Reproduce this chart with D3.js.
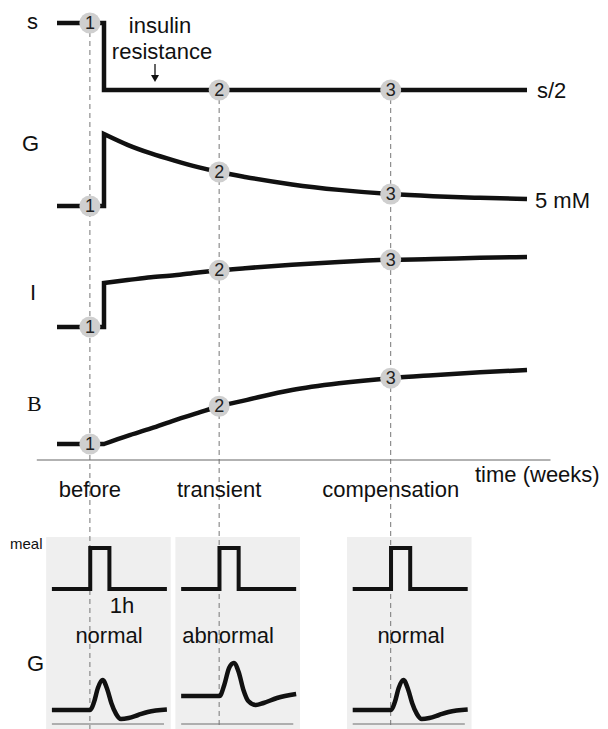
<!DOCTYPE html>
<html>
<head>
<meta charset="utf-8">
<script src="https://cdnjs.cloudflare.com/ajax/libs/d3/7.8.5/d3.min.js"></script>
<style>
  body { margin: 0; background: #fff; }
  svg { display: block; font-family: "Liberation Sans", Arial, Helvetica, sans-serif; }
</style>
</head>
<body>
<svg id="chart" width="608" height="729"></svg>
<script>
// time in weeks, 0 = onset of insulin resistance
const times = [0, 0.5, 1, 1.5, 2, 2.45, 3, 4, 5, 6.1, 7, 8, 9];
const sValues = [0.5, 0.5, 0.5, 0.5, 0.5, 0.5, 0.5, 0.5, 0.5, 0.5, 0.5, 0.5, 0.5];
const gValues = [10.0, 9.25, 8.65, 8.15, 7.7, 7.36, 7.02, 6.5, 6.12, 5.83, 5.68, 5.57, 5.49];
const iValues = [1.63, 1.67, 1.71, 1.74, 1.78, 1.81, 1.84, 1.89, 1.93, 1.96, 1.97, 1.99, 2.0];
const bValues = [1.0, 1.11, 1.21, 1.32, 1.42, 1.51, 1.59, 1.73, 1.82, 1.89, 1.93, 1.97, 2.0];
const baselines = { s: 1, G: 5, I: 1, B: 1 };

const markerTimes = [-0.3, 2.45, 6.1];
const markerLabels = ['1', '2', '3'];
const periodLabels = ['before', 'transient', 'compensation'];
const responseLabels = ['normal', 'abnormal', 'normal'];

// meal test, hours after meal
const mealHours = [-2, 0, 1, 4];
const mealValues = [0, 1, 0, 0];
const gNormalHours = [-2, 0, 0.2, 0.4, 0.65, 0.9, 1.1, 1.35, 1.6, 2, 2.5, 3, 4];
const gNormalValues = [5, 5, 6.33, 8.67, 10, 8.33, 6.17, 4.33, 3.5, 3.67, 4.17, 4.67, 5.08];
const gAbnormalHours = [-2, 0, 0.25, 0.5, 0.75, 1.0, 1.25, 1.5, 1.9, 2.3, 3, 4];
const gAbnormalValues = [7.33, 7.33, 9.17, 12, 12.83, 11.33, 8.33, 6.5, 5.83, 6.17, 7, 7.67];

const svg = d3.select('#chart');
const x = d3.scaleLinear().domain([-1, 9]).range([57, 527]);

const rows = [
  { key: 's', values: sValues, y: d3.scaleLinear().domain([0.5, 1]).range([90, 23]) },
  { key: 'G', values: gValues, y: d3.scaleLinear().domain([5, 10]).range([206, 134]) },
  { key: 'I', values: iValues, y: d3.scaleLinear().domain([1, 2]).range([327, 257]) },
  { key: 'B', values: bValues, y: d3.scaleLinear().domain([1, 2]).range([444, 370]) },
];

const valueAt = (row, t) => (t < 0 ? baselines[row.key] : row.values[times.indexOf(t)]);

// ---- meal test panels (background) ----
const mealY = d3.scaleLinear().domain([0, 1]).range([589, 548]);
const miniY = d3.scaleLinear().domain([0, 10]).range([740, 680]);
const panelG = [
  [gNormalHours, gNormalValues],
  [gAbnormalHours, gAbnormalValues],
  [gNormalHours, gNormalValues],
];

markerTimes.forEach((t) => {
  const mx = x(t);
  const hx = d3.scaleLinear().domain([-2, 4]).range([mx - 38, mx + 77]);
  const g = svg.append('g');
  g.append('rect')
    .attr('x', hx(-2.3)).attr('y', 537)
    .attr('width', hx(4.2) - hx(-2.3)).attr('height', 200)
    .attr('fill', '#efefef');
  g.append('line')
    .attr('x1', hx(-2)).attr('x2', hx(3.85))
    .attr('y1', 724).attr('y2', 724)
    .attr('stroke', '#999').attr('stroke-width', 1.5);
});

// ---- dashed guides ----
markerTimes.forEach((t) => {
  svg.append('line')
    .attr('x1', x(t)).attr('x2', x(t))
    .attr('y1', rows[0].y(valueAt(rows[0], t))).attr('y2', 729)
    .attr('stroke', '#777').attr('stroke-width', 1)
    .attr('stroke-dasharray', '5,4');
});

// ---- time axis ----
svg.append('line')
  .attr('x1', x(-1.43)).attr('x2', x(9.5))
  .attr('y1', 460).attr('y2', 460)
  .attr('stroke', '#666').attr('stroke-width', 1.2);
svg.append('text').attr('x', 475).attr('y', 482)
  .attr('font-size', 22).attr('fill', '#111').text('time (weeks)');

// ---- curves ----
rows.forEach((row) => {
  const pre = d3.line().x(d => x(d[0])).y(d => row.y(d[1]))([[-1, baselines[row.key]], [0, baselines[row.key]]]);
  const post = d3.line().x(d => x(d[0])).y(d => row.y(d[1])).curve(d3.curveMonotoneX)(times.map((t, i) => [t, row.values[i]]));
  svg.append('path')
    .attr('d', pre + 'L' + post.slice(1))
    .attr('fill', 'none').attr('stroke', '#111')
    .attr('stroke-width', 4.5).attr('stroke-linejoin', 'miter');
});

// ---- markers ----
rows.forEach((row) => {
  markerTimes.forEach((t, i) => {
    const cx = x(t);
    const cy = row.y(valueAt(row, t));
    svg.append('circle').attr('cx', cx).attr('cy', cy).attr('r', 10.5).attr('fill', '#cfcfcf');
    svg.append('text').attr('x', cx).attr('y', cy + 6)
      .attr('text-anchor', 'middle').attr('font-size', 18).attr('fill', '#222')
      .text(markerLabels[i]);
  });
});

// ---- row labels ----
const txt = (s, tx, ty, opts = {}) => svg.append('text')
  .attr('x', tx).attr('y', ty)
  .attr('font-size', opts.size || 22)
  .attr('text-anchor', opts.anchor || 'start')
  .attr('font-family', opts.family || null)
  .attr('fill', '#111').text(s);

txt('s', 27, 29);
txt('G', 22, 151);
txt('I', 30, 300);
txt('B', 27, 411, { family: '"Liberation Serif", "Times New Roman", serif' });
txt('s/2', 537, 98);
txt('5 mM', 535, 208);
txt('insulin', 160, 33, { anchor: 'middle' });
txt('resistance', 162, 59, { anchor: 'middle' });

// arrow
svg.append('line').attr('x1', 155).attr('x2', 155).attr('y1', 64).attr('y2', 76)
  .attr('stroke', '#111').attr('stroke-width', 1.3);
svg.append('path').attr('d', 'M151,75 L159,75 L155,82 Z').attr('fill', '#111');

periodLabels.forEach((p, i) => txt(p, x(markerTimes[i]), 497, { anchor: 'middle' }));

// ---- meal test contents ----
const respX = [109, 228, 411];
markerTimes.forEach((t, i) => {
  const mx = x(t);
  const hx = d3.scaleLinear().domain([-2, 4]).range([mx - 38, mx + 77]);
  svg.append('path')
    .attr('d', d3.line().x(d => hx(d)).y((d, j) => mealY(mealValues[j])).curve(d3.curveStepAfter)(mealHours))
    .attr('fill', 'none').attr('stroke', '#111').attr('stroke-width', 4);
  const [hh, vv] = panelG[i];
  svg.append('path')
    .attr('d', d3.line().x(d => hx(d)).y((d, j) => miniY(vv[j])).curve(d3.curveMonotoneX)(hh))
    .attr('fill', 'none').attr('stroke', '#111').attr('stroke-width', 4.5);
  txt(responseLabels[i], respX[i], 643, { anchor: 'middle' });
});

txt('1h', 122, 613, { anchor: 'middle' });
txt('meal', 10, 549, { size: 15 });
txt('G', 27, 671);
</script>
</body>
</html>
